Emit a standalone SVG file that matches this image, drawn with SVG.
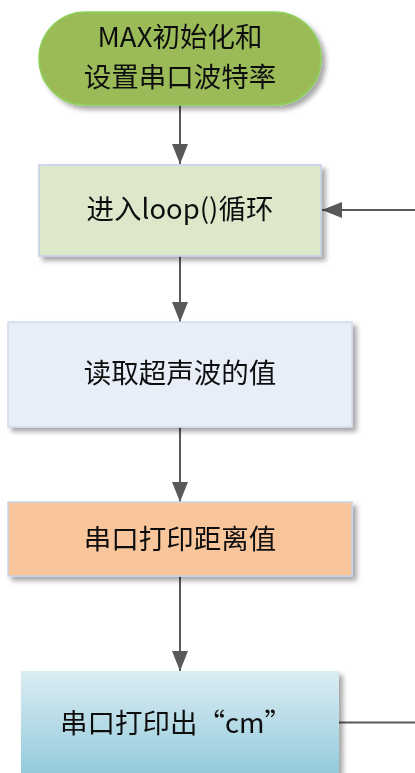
<svg xmlns="http://www.w3.org/2000/svg" width="415" height="773" viewBox="0 0 415 773">
<style>
text{font-family:"Noto Sans CJK SC","Liberation Sans",sans-serif;font-size:27.5px;fill:#111;text-anchor:middle}
.c{stroke:#595959;stroke-width:2;fill:none}
.n{filter:url(#sh)}
</style>
<defs>
<filter id="sh" x="-10%" y="-10%" width="125%" height="130%">
<feDropShadow dx="4" dy="4" stdDeviation="2.5" flood-color="#000" flood-opacity="0.35"/>
</filter>
<linearGradient id="g5" x1="0" y1="0" x2="0" y2="1">
<stop offset="0" stop-color="#dcedf3"/>
<stop offset="1" stop-color="#8ec8da"/>
</linearGradient>
<marker id="ah" markerWidth="20" markerHeight="16" refX="20" refY="8" orient="auto" markerUnits="userSpaceOnUse">
<path d="M0,0 L20,8 L0,16 Z" fill="#595959"/>
</marker>
</defs>
<g id="connectors">
<path class="c" d="M180,105 V164" marker-end="url(#ah)"/>
<path class="c" d="M180,256 V322" marker-end="url(#ah)"/>
<path class="c" d="M180,427 V502" marker-end="url(#ah)"/>
<path class="c" d="M180,576 V671" marker-end="url(#ah)"/>
<path class="c" d="M339,722.5 H415"/>
<path class="c" d="M415,210 H322" marker-end="url(#ah)"/>
</g>
<g id="n1" class="n">
<rect x="39" y="12" width="282" height="93" rx="46.5" fill="#9bbb59" stroke="#8fd05a" stroke-width="1.5"/>
<text x="180" y="47">MAX初始化和</text>
<text x="180" y="87">设置串口波特率</text>
</g>
<g id="n2" class="n">
<rect x="39" y="165" width="282" height="91" fill="#dde8cb" stroke="#c3d0e6" stroke-width="1.5"/>
<text x="180" y="219">进入loop()循环</text>
</g>
<g id="n3" class="n">
<rect x="8" y="322" width="344" height="105" fill="#e7eef8" stroke="#d0dcee" stroke-width="1.5"/>
<text x="180" y="383">读取超声波的值</text>
</g>
<g id="n4" class="n">
<rect x="8" y="502" width="344" height="74" fill="#f9c59a" stroke="#c8d6ea" stroke-width="1.5"/>
<text x="180" y="549">串口打印距离值</text>
</g>
<g id="n5" class="n">
<rect x="21" y="671" width="318" height="110" fill="url(#g5)"/>
<text x="176" y="733">串口打印出“cm”</text>
</g>
</svg>
